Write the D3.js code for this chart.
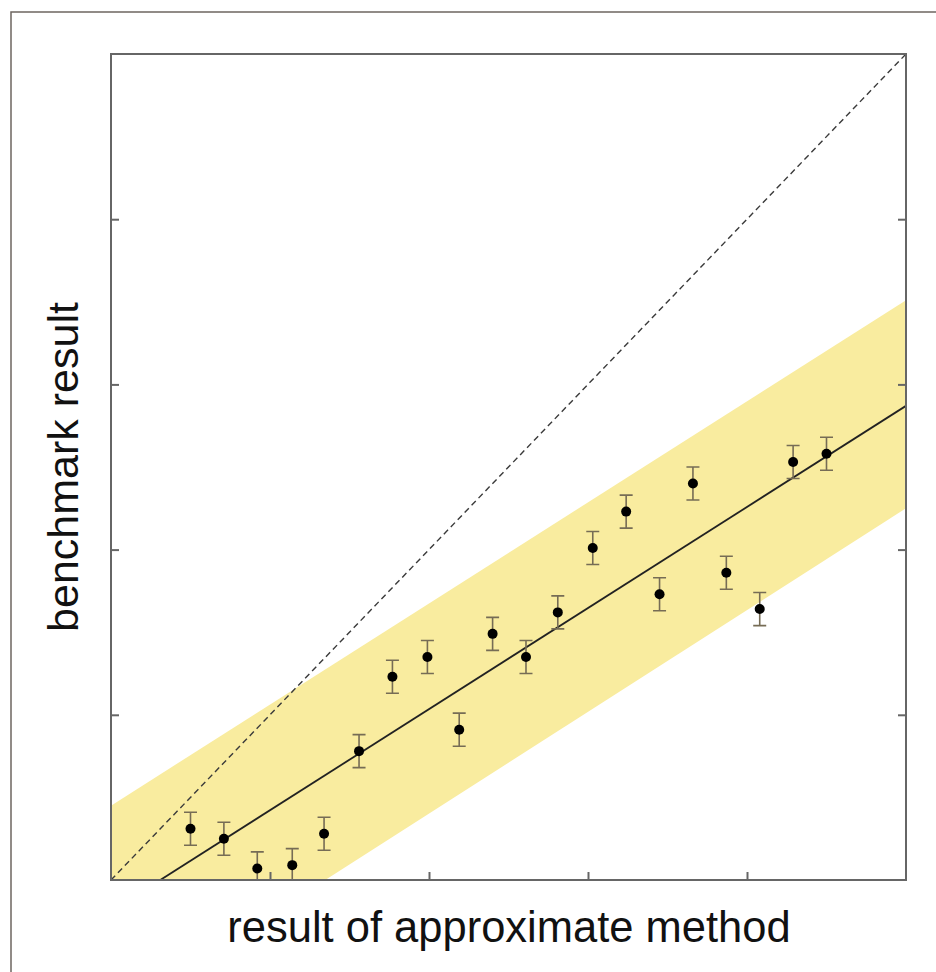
<!DOCTYPE html>
<html>
<head>
<meta charset="utf-8">
<script src="https://cdn.jsdelivr.net/npm/d3@7"></script>
<style>
  html, body { margin: 0; padding: 0; background: #fff; }
  svg { display: block; }
  text { font-family: "Liberation Sans", Arial, sans-serif; fill: #111; }
</style>
</head>
<body>
<div id="container"></div>
<script>
// measured points: approximate method (x) vs benchmark (y)
const xVals = [0.50, 0.71, 0.92, 1.14, 1.34, 1.56, 1.77, 1.99, 2.19, 2.40,
               2.61, 2.81, 3.03, 3.24, 3.45, 3.66, 3.87, 4.08, 4.29, 4.50]
const yVals = [0.31, 0.25, 0.07, 0.09, 0.28, 0.78, 1.23, 1.35, 0.91, 1.49,
               1.35, 1.62, 2.01, 2.23, 1.73, 2.40, 1.86, 1.64, 2.53, 2.58]
const yErr  = [0.10, 0.10, 0.10, 0.10, 0.10, 0.10, 0.10, 0.10, 0.10, 0.10,
               0.10, 0.10, 0.10, 0.10, 0.10, 0.10, 0.10, 0.10, 0.10, 0.10]

// regression line and its band
const fitX = [0.31, 5]
const fitY = [0, 2.87]
const bandX = [0, 5]
const bandUpper = [0.45, 3.51]
const bandLower = [-0.83, 2.25]

// identity line
const diagX = [0, 5]
const diagY = [0, 5]

const xTicks = [1, 2, 3, 4]
const yTicks = [1, 2, 3, 4]

const W = 936, H = 972
const margin = {left: 111, top: 54, right: 30, bottom: 92}

const svg = d3.select("div#container")
    .append("svg")
    .attr("width", W)
    .attr("height", H)

// outer frame of the figure
svg.append("path")
    .attr("d", `M11,${H} L11,12 L${W},12`)
    .attr("fill", "none")
    .attr("stroke", "#6d6660")
    .attr("stroke-width", 1.5)

const x = d3.scaleLinear().domain([0, 5]).range([margin.left, W - margin.right])
const y = d3.scaleLinear().domain([0, 5]).range([H - margin.bottom, margin.top])

svg.append("clipPath")
    .attr("id", "plot-clip")
    .append("rect")
    .attr("x", x(0))
    .attr("y", y(5))
    .attr("width", x(5) - x(0))
    .attr("height", y(0) - y(5))

const plot = svg.append("g").attr("clip-path", "url(#plot-clip)")

const band = bandX.map((v, i) => ({x: v, lo: bandLower[i], hi: bandUpper[i]}))

plot.append("path")
    .datum(band)
    .attr("fill", "#f9ec9f")
    .attr("d", d3.area().x(d => x(d.x)).y0(d => y(d.lo)).y1(d => y(d.hi)))

plot.append("path")
    .datum(diagX.map((v, i) => [v, diagY[i]]))
    .attr("fill", "none")
    .attr("stroke", "#3a3a3a")
    .attr("stroke-width", 1.4)
    .attr("stroke-dasharray", "6,4")
    .attr("d", d3.line().x(d => x(d[0])).y(d => y(d[1])))

plot.append("path")
    .datum(fitX.map((v, i) => [v, fitY[i]]))
    .attr("fill", "none")
    .attr("stroke", "#222")
    .attr("stroke-width", 1.8)
    .attr("d", d3.line().x(d => x(d[0])).y(d => y(d[1])))

const pts = xVals.map((v, i) => ({x: v, y: yVals[i], e: yErr[i]}))

plot.append("g")
    .attr("stroke", "#766c55")
    .attr("stroke-width", 1.6)
    .attr("fill", "none")
    .selectAll("path")
    .data(pts)
    .join("path")
    .attr("d", d => {
        const cx = x(d.x), t = y(d.y + d.e), b = y(d.y - d.e), c = 6.5
        return `M${cx - c},${t}H${cx + c}M${cx},${t}V${b}M${cx - c},${b}H${cx + c}`
    })

plot.append("g")
    .selectAll("circle")
    .data(pts)
    .join("circle")
    .attr("cx", d => x(d.x))
    .attr("cy", d => y(d.y))
    .attr("r", 5)
    .attr("fill", "#000")

// box with inward ticks
const axisColor = "#666"
svg.append("g")
    .attr("transform", `translate(0,${y(0)})`)
    .call(d3.axisBottom(x).tickValues(xTicks).tickSize(-8).tickFormat(""))
    .call(g => g.select(".domain").remove())
    .call(g => g.selectAll("line").attr("stroke", axisColor).attr("stroke-width", 2))

svg.append("g")
    .attr("transform", `translate(${x(0)},0)`)
    .call(d3.axisLeft(y).tickValues(yTicks).tickSize(-8).tickFormat(""))
    .call(g => g.select(".domain").remove())
    .call(g => g.selectAll("line").attr("stroke", axisColor).attr("stroke-width", 2))

svg.append("g")
    .attr("transform", `translate(${x(5)},0)`)
    .call(d3.axisRight(y).tickValues(yTicks).tickSize(-8).tickFormat(""))
    .call(g => g.select(".domain").remove())
    .call(g => g.selectAll("line").attr("stroke", axisColor).attr("stroke-width", 2))

svg.append("rect")
    .attr("x", x(0))
    .attr("y", y(5))
    .attr("width", x(5) - x(0))
    .attr("height", y(0) - y(5))
    .attr("fill", "none")
    .attr("stroke", axisColor)
    .attr("stroke-width", 2)

svg.append("text")
    .attr("x", 509)
    .attr("y", 942)
    .attr("text-anchor", "middle")
    .style("font-size", "43.5px")
    .text("result of approximate method")

svg.append("text")
    .attr("transform", `translate(78,${(y(0) + y(5)) / 2}) rotate(-90)`)
    .attr("text-anchor", "middle")
    .style("font-size", "43px")
    .text("benchmark result")
</script>
</body>
</html>
